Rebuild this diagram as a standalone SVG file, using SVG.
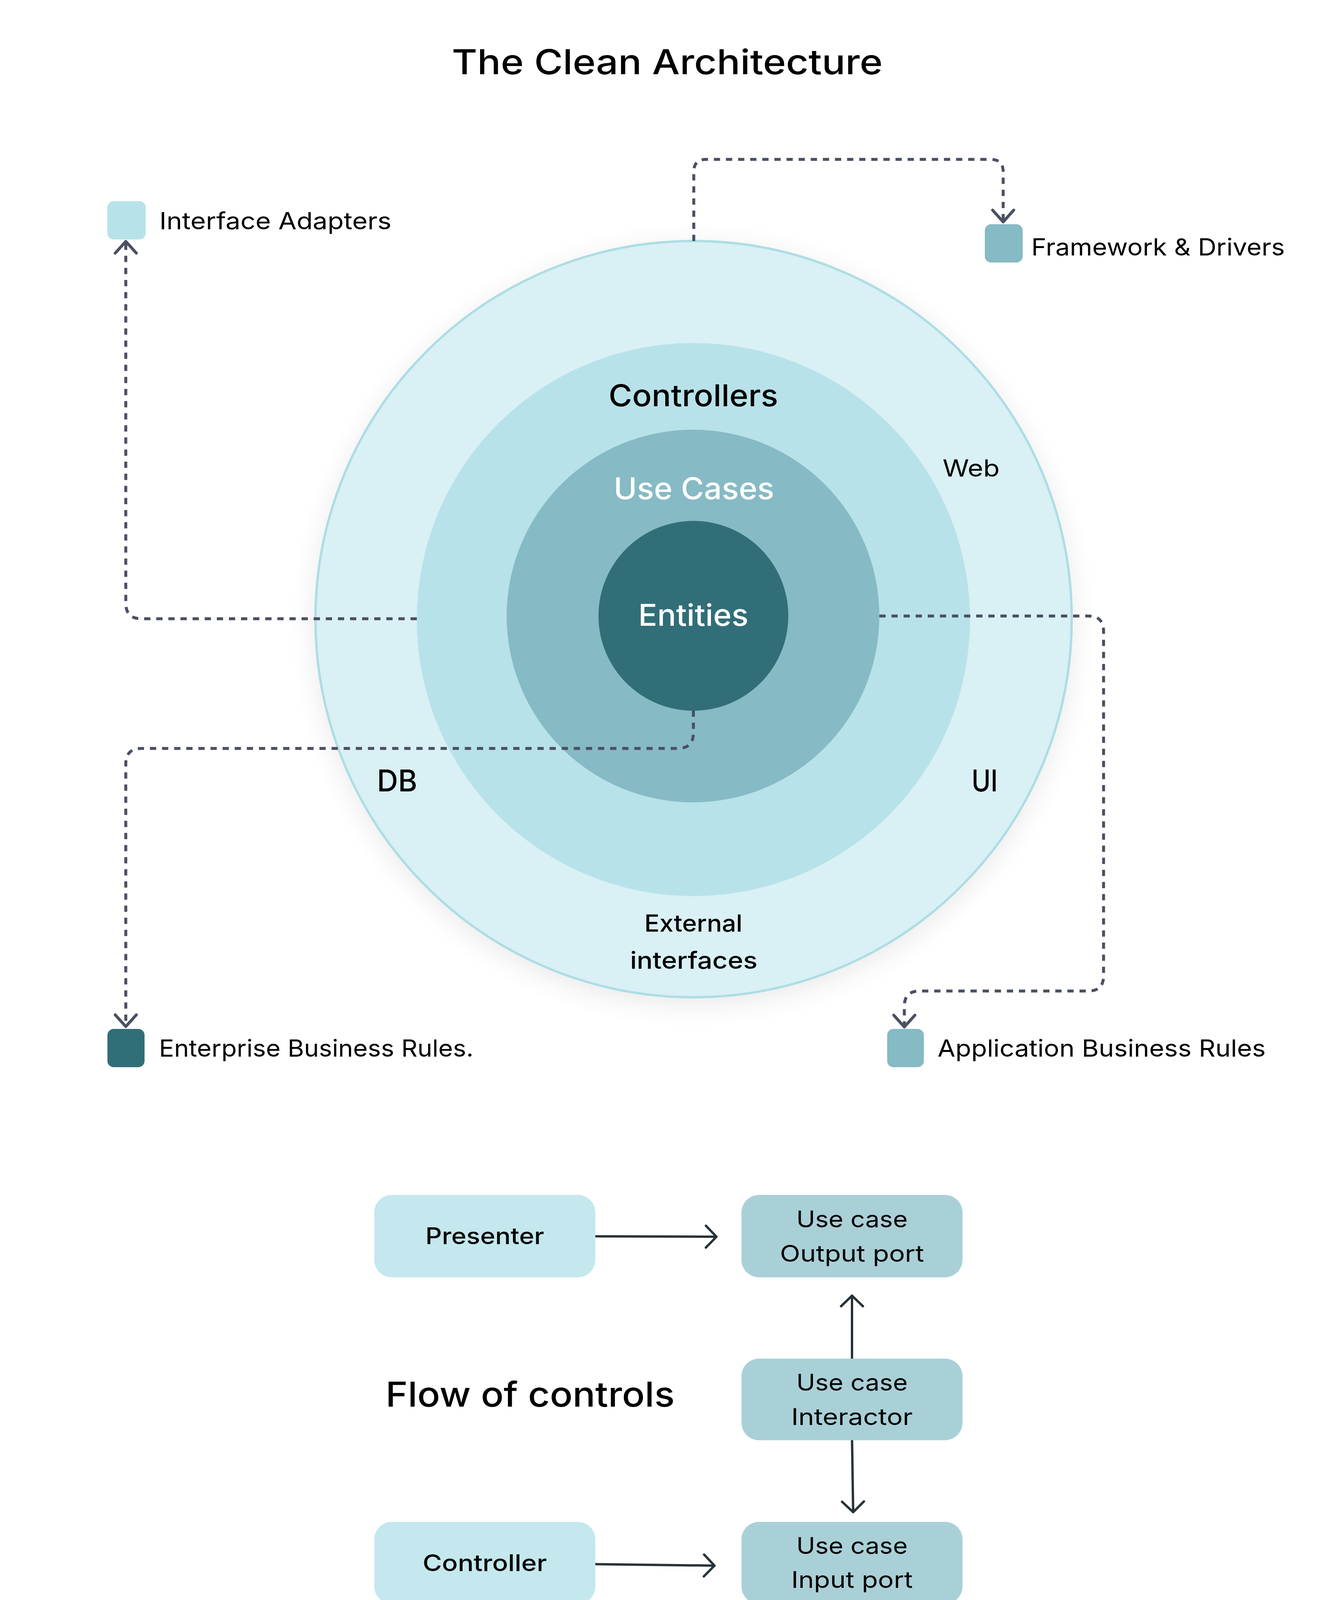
<svg xmlns="http://www.w3.org/2000/svg" width="3420" height="4638" viewBox="0 0 3420 4638">
<defs>
<style>
text{font-family:Inter,"Liberation Sans",sans-serif;fill:#000000}
.title{font-size:88px;font-weight:500}
.ring{font-size:77px;font-weight:500}
.leg{font-size:61px;font-weight:400}
.lbl{font-size:60px;font-weight:400}
.lblm{font-size:60px;font-weight:500}
.box{font-size:59px;font-weight:400}
.boxm{font-size:59px;font-weight:500}
.c{text-anchor:middle}
.w{fill:#FFFFFF}
.dash{fill:none;stroke:#4B4F63;stroke-width:7.5;stroke-dasharray:16 15;marker-end:url(#oa)}
.flow{fill:none;stroke:#263238;stroke-width:6;stroke-linecap:round;marker-end:url(#fa)}
.lightbox{fill:#C4E8EE}
.darkbox{fill:#AAD0D7}
</style>
<marker id="oa" markerUnits="userSpaceOnUse" viewBox="-45 -45 55 90" refX="0" refY="0" markerWidth="55" markerHeight="90" orient="auto">
<path d="M-30,-27 L0,0 L-30,27" fill="none" stroke="#4B4F63" stroke-width="7.5" stroke-dasharray="none" stroke-linecap="round" stroke-linejoin="round"/>
</marker>
<marker id="fa" markerUnits="userSpaceOnUse" viewBox="-45 -45 55 90" refX="0" refY="0" markerWidth="55" markerHeight="90" orient="auto">
<path d="M-27,-28 L0,0 L-27,28" fill="none" stroke="#263238" stroke-width="6" stroke-linecap="round" stroke-linejoin="round"/>
</marker>
<filter id="sh" x="-20%" y="-20%" width="140%" height="140%">
<feGaussianBlur in="SourceAlpha" stdDeviation="35"/>
<feOffset dy="15" result="b"/>
<feComponentTransfer><feFuncA type="linear" slope="0.09"/></feComponentTransfer>
<feMerge><feMergeNode/><feMergeNode in="SourceGraphic"/></feMerge>
</filter>
</defs>
<rect x="0" y="0" width="3420" height="4638" fill="#FFFFFF"/>

<g id="title">
<text class="title c" x="1708" y="190" textLength="1103" lengthAdjust="spacingAndGlyphs">The Clean Architecture</text>
</g>

<g id="ring-frameworks">
<circle cx="1775.5" cy="1585" r="968" fill="#D9F0F4" stroke="#ADDDE4" stroke-width="6" filter="url(#sh)"/>
<text class="lbl" x="2413" y="1220" textLength="146" lengthAdjust="spacingAndGlyphs">Web</text>
<text class="lblm c" x="1775" y="2385" textLength="251" lengthAdjust="spacingAndGlyphs">External</text>
<text class="lblm c" x="1776" y="2480" textLength="326" lengthAdjust="spacingAndGlyphs">interfaces</text>
</g>
<g id="ring-adapters">
<circle cx="1775" cy="1586" r="708" fill="#B8E2E9"/>
<text class="ring c" x="1775" y="1040" textLength="434" lengthAdjust="spacingAndGlyphs">Controllers</text>
</g>
<g id="ring-usecases">
<circle cx="1774" cy="1577" r="477" fill="#86BAC4"/>
<text class="ring c w" x="1776.5" y="1278" font-weight="600" textLength="411" lengthAdjust="spacingAndGlyphs">Use Cases</text>
</g>
<g id="ring-entities">
<circle cx="1775" cy="1576.5" r="243" fill="#316E78"/>
<text class="ring c w" x="1775" y="1602" textLength="282" lengthAdjust="spacingAndGlyphs">Entities</text>
</g>
<g id="label-db">
<text class="ring" x="965" y="2026" textLength="103" lengthAdjust="spacingAndGlyphs">DB</text>
</g>
<g id="label-ui">
<text class="ring" x="2487" y="2026" textLength="67" lengthAdjust="spacingAndGlyphs">UI</text>
</g>

<g id="connectors">
<path class="dash" d="M1067,1584 H362 Q322,1584 322,1544 V618"/>
<path class="dash" d="M1776,617 V440 Q1776,408 1808,408 H2536 Q2568,408 2568,440 V568"/>
<path class="dash" d="M2251,1577 H2786 Q2825,1577 2825,1616 V2498 Q2825,2537 2786,2537 H2354 Q2315,2537 2315,2576 V2629"/>
<path class="dash" d="M1775,1819 V1876 Q1775,1916 1735,1916 H362 Q322,1916 322,1956 V2628"/>
<path class="flow" d="M1509,3165 L1834,3166"/>
<path class="flow" d="M2181,3489 L2181,3317"/>
<path class="flow" d="M2181,3677 L2184,3871"/>
<path class="flow" d="M1509,4004 L1829,4008"/>
</g>

<g id="legend-interface-adapters">
<rect x="275" y="515" width="98" height="98" rx="16" fill="#B8E2E9"/>
<text class="leg" x="408" y="587" textLength="594" lengthAdjust="spacingAndGlyphs">Interface Adapters</text>
</g>
<g id="legend-frameworks">
<rect x="2521" y="574" width="97" height="98" rx="16" fill="#86BAC4"/>
<text class="leg" x="2640" y="654" textLength="649" lengthAdjust="spacingAndGlyphs">Framework &amp; Drivers</text>
</g>
<g id="legend-enterprise">
<rect x="275" y="2634" width="95" height="98" rx="16" fill="#316E78"/>
<text class="leg" x="407" y="2705" textLength="805" lengthAdjust="spacingAndGlyphs">Enterprise Business Rules.</text>
</g>
<g id="legend-application">
<rect x="2271" y="2634" width="94" height="98" rx="16" fill="#86BAC4"/>
<text class="leg" x="2400" y="2705" textLength="840" lengthAdjust="spacingAndGlyphs">Application Business Rules</text>
</g>

<g id="flow-title">
<text class="title" x="987" y="3601" textLength="740" lengthAdjust="spacingAndGlyphs">Flow of controls</text>
</g>
<g id="presenter">
<rect class="lightbox" x="958" y="3059" width="566" height="211" rx="45"/>
<text class="boxm c" x="1241" y="3185" textLength="304" lengthAdjust="spacingAndGlyphs">Presenter</text>
</g>
<g id="output-port">
<rect class="darkbox" x="1898" y="3059" width="566" height="211" rx="45"/>
<text class="box c" x="2181" y="3142" textLength="285" lengthAdjust="spacingAndGlyphs">Use case</text>
<text class="box c" x="2181" y="3230" textLength="369" lengthAdjust="spacingAndGlyphs">Output port</text>
</g>
<g id="interactor">
<rect class="darkbox" x="1898" y="3478" width="566" height="209" rx="45"/>
<text class="box c" x="2181" y="3560" textLength="285" lengthAdjust="spacingAndGlyphs">Use case</text>
<text class="box c" x="2181" y="3648" textLength="311" lengthAdjust="spacingAndGlyphs">Interactor</text>
</g>
<g id="controller">
<rect class="lightbox" x="958" y="3896" width="566" height="210" rx="45"/>
<text class="boxm c" x="1241" y="4022" textLength="318" lengthAdjust="spacingAndGlyphs">Controller</text>
</g>
<g id="input-port">
<rect class="darkbox" x="1898" y="3896" width="566" height="210" rx="45"/>
<text class="box c" x="2181" y="3978" textLength="285" lengthAdjust="spacingAndGlyphs">Use case</text>
<text class="box c" x="2181" y="4065" textLength="311" lengthAdjust="spacingAndGlyphs">Input port</text>
</g>
</svg>
